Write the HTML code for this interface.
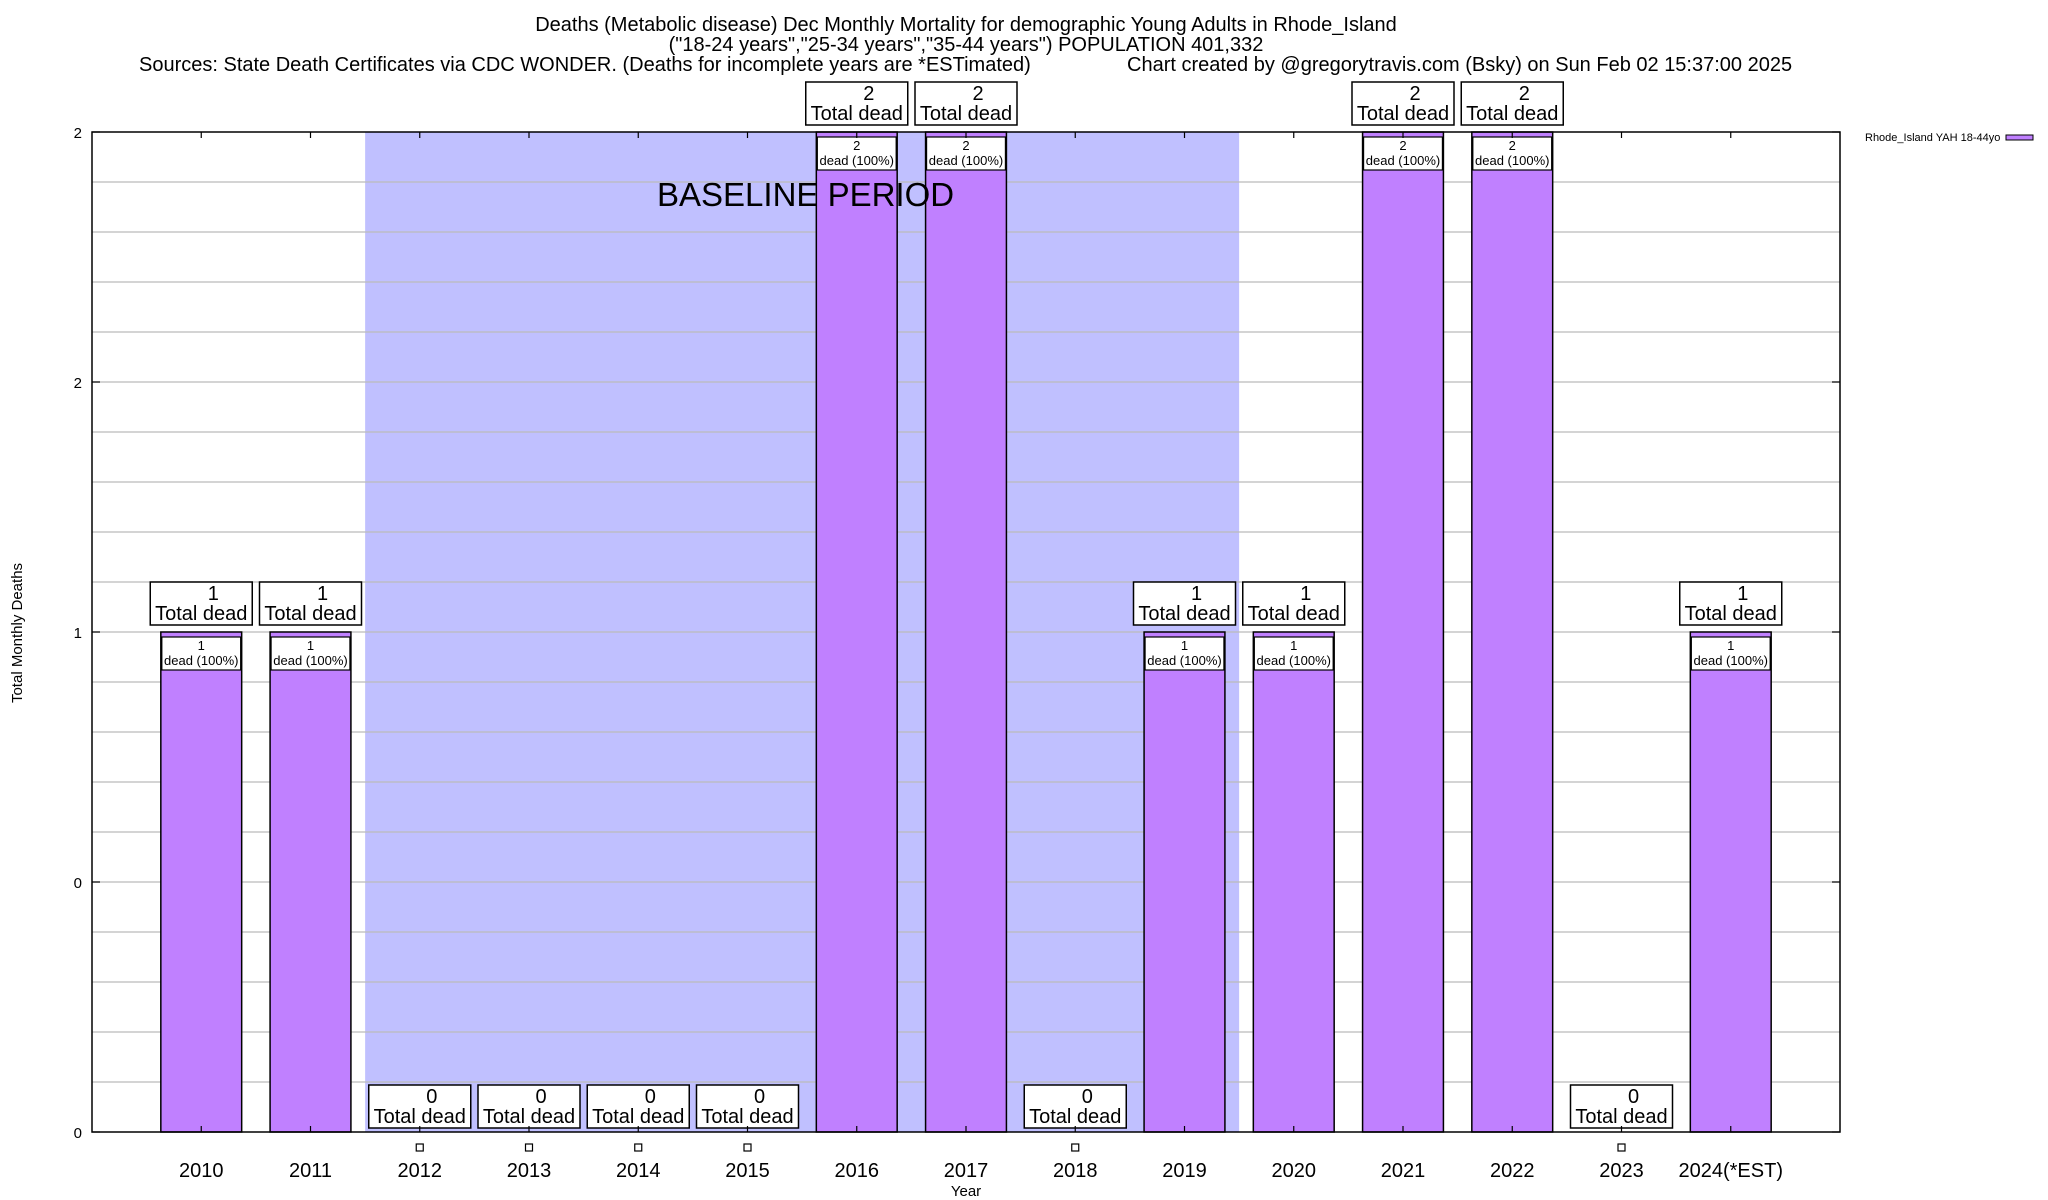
<!DOCTYPE html>
<html><head><meta charset="utf-8"><style>
html,body{margin:0;padding:0;background:#fff;}
svg{display:block;font-family:"Liberation Sans",Arial,sans-serif;}
</style></head><body>
<svg id="chart" width="2048" height="1200" viewBox="0 0 2048 1200">
<g font-size="20" text-anchor="middle">
<text x="966" y="31">Deaths (Metabolic disease) Dec Monthly Mortality for demographic Young Adults in Rhode_Island</text>
<text x="966" y="51">("18-24 years","25-34 years","35-44 years") POPULATION 401,332</text>
<text x="139" y="71" text-anchor="start">Sources: State Death Certificates via CDC WONDER. (Deaths for incomplete years are *ESTimated)</text>
<text x="1127" y="71" text-anchor="start">Chart created by @gregorytravis.com (Bsky) on Sun Feb 02 15:37:00 2025</text>
</g>
<text x="22" y="633" font-size="15" text-anchor="middle" transform="rotate(-90 22 633)">Total Monthly Deaths</text>
<text x="966" y="1196" font-size="15" text-anchor="middle">Year</text>
<g>
<text x="1865" y="141" font-size="11">Rhode_Island YAH 18-44yo</text>
<rect x="2006" y="135" width="27" height="5" fill="#c080ff" stroke="#000" stroke-width="1"/>
</g>
<g id="plot"></g>
</svg>
<script>
const categories = ["2010","2011","2012","2013","2014","2015","2016","2017","2018","2019","2020","2021","2022","2023","2024(*EST)"];
const deaths = [1,1,0,0,0,0,2,2,0,1,1,2,2,0,1];
const yTicks = [0,0.5,1,1.5,2];
const yTickLabels = ["0","0","1","2","2"];
const baselineStart = "2012", baselineEnd = "2019";

const L=92,R=1840,T=132,B=1132;
const slot=(R-L)/(categories.length+1);
const xc=i=>L+slot*(i+1);
const y=v=>B-(v/2)*(B-T);
const NS="http://www.w3.org/2000/svg";
const plot=document.getElementById('plot');
function mk(tag,attrs,parent,text){const e=document.createElementNS(NS,tag);for(const k in attrs)e.setAttribute(k,attrs[k]);if(text!==undefined)e.textContent=text;(parent||plot).appendChild(e);return e;}

const si=categories.indexOf(baselineStart), ei=categories.indexOf(baselineEnd);
const shade=mk('rect',{x:xc(si)-slot/2,y:T,width:(ei-si+1)*slot,height:B-T,fill:'#c0c0ff'});



for(let k=1;k<20;k++){const v=k*0.1;const g=mk('line',{x1:L,x2:R,y1:y(v),y2:y(v),stroke:'#bbb','stroke-width':1.3});

}

const bw=slot*0.74;
categories.forEach((c,i)=>{
  const v=deaths[i], x0=xc(i)-bw/2;
  if(v>0){
    const b=mk('rect',{x:x0,y:y(v),width:bw,height:B-y(v),fill:'#c080ff',stroke:'#000','stroke-width':1.5});
    
    
    const ib=mk('rect',{x:x0+1,y:y(v)+5,width:bw-2,height:33,fill:'#fff',stroke:'#000','stroke-width':1.2});
    
    
    mk('text',{x:xc(i),y:y(v)+18,'font-size':13,'text-anchor':'middle'},null,String(v));
    const t=mk('text',{x:xc(i),y:y(v)+33,'font-size':13,'text-anchor':'middle'},null,'dead (100%)');
    
    
  } else {
    const m=mk('rect',{x:xc(i)-3.5,y:B+12,width:7,height:7,fill:'#fff',stroke:'#000','stroke-width':1.2});
    
    
  }
  const bt=y(v)-(v>0?7:4);
  const lb=mk('rect',{x:xc(i)-51,y:bt-43,width:102,height:43,fill:'#fff',stroke:'#000','stroke-width':1.5});
  
  
  mk('text',{x:xc(i)+12,y:bt-25,'font-size':20,'text-anchor':'middle'},null,String(v));
  const tl=mk('text',{x:xc(i),y:bt-5,'font-size':20,'text-anchor':'middle'},null,'Total dead');
  
  
  const xl=mk('text',{x:xc(i),y:1177,'font-size':20,'text-anchor':'middle'},null,c);
  
  
  mk('line',{x1:xc(i),x2:xc(i),y1:T,y2:T+6,stroke:'#000','stroke-width':1.2});
  mk('line',{x1:xc(i),x2:xc(i),y1:B,y2:B-6,stroke:'#000','stroke-width':1.2});
});

const bl=mk('text',{x:657,y:206,'font-size':33},null,'BASELINE PERIOD');



const fr=mk('rect',{x:L,y:T,width:R-L,height:B-T,fill:'none',stroke:'#000','stroke-width':1.5});



yTicks.forEach((v,k)=>{
  const t=mk('text',{x:82,y:y(v)+6,'font-size':15,'text-anchor':'end'},null,yTickLabels[k]);
  
  
  mk('line',{x1:L,x2:L+8,y1:y(v),y2:y(v),stroke:'#000','stroke-width':1.2});
  mk('line',{x1:R,x2:R-8,y1:y(v),y2:y(v),stroke:'#000','stroke-width':1.2});
});
</script>
</body></html>
